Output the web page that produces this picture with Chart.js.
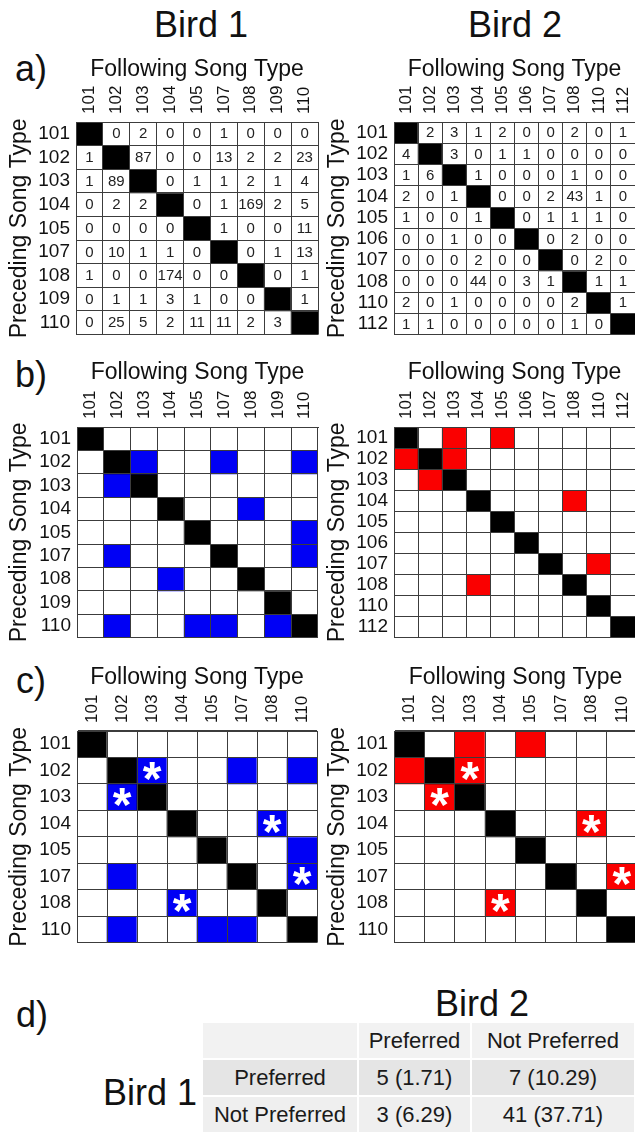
<!DOCTYPE html>
<html>
<head>
<meta charset="utf-8">
<title>Song type transitions</title>
<script src="https://cdn.jsdelivr.net/npm/chart.js@4.4.1/dist/chart.umd.min.js"></script>
<style>
  body { margin: 0; background: #fff; }
  #page { position: relative; width: 635px; height: 1132px; overflow: hidden;
          font-family: "Liberation Sans", Arial, sans-serif; color: #111; }
  .chartBox { position: absolute; }
  .big { position: absolute; font-size: 36px; line-height: 36px; white-space: nowrap; }
  .ctr { width: 200px; text-align: center; }
  #tbl { position: absolute; left: 201px; top: 1021px; width: 435px; table-layout: fixed;
         border-collapse: separate; border-spacing: 2px; font-size: 22px; color: #1a1a1a; }
  #tbl td { height: 35px; padding: 0; text-align: center; vertical-align: middle; white-space: nowrap; }
  #tbl tr.hd td { background: #f2f2f2; }
  #tbl tr.r0 td { background: #e5e5e5; }
  #tbl tr.r1 td { background: #efefef; }
</style>
</head>
<body>
<div id="page">
  <div class="big ctr" style="left:101px;top:7px">Bird 1</div>
  <div class="big ctr" style="left:415px;top:7px">Bird 2</div>
  <div class="big" style="left:15px;top:51px">a)</div>
  <div class="big" style="left:15px;top:357px">b)</div>
  <div class="big" style="left:16px;top:663px">c)</div>
  <div class="big" style="left:16px;top:997px">d)</div>
  <div class="big ctr" style="left:382px;top:986px">Bird 2</div>
  <div class="big" style="left:103px;top:1075px">Bird 1</div>

  <div class="chartBox"><canvas id="a1"></canvas></div>
  <div class="chartBox"><canvas id="a2"></canvas></div>
  <div class="chartBox"><canvas id="b1"></canvas></div>
  <div class="chartBox"><canvas id="b2"></canvas></div>
  <div class="chartBox"><canvas id="c1"></canvas></div>
  <div class="chartBox"><canvas id="c2"></canvas></div>

  <table id="tbl"></table>
</div>

<script>
// song types (rows = preceding, columns = following)
const bird1Types = ['101', '102', '103', '104', '105', '107', '108', '109', '110'];
const bird2Types = ['101', '102', '103', '104', '105', '106', '107', '108', '110', '112'];
// types shared by both birds, used in panel c
const sharedTypes = ['101', '102', '103', '104', '105', '107', '108', '110'];

// transition counts, null on the diagonal
const bird1Counts = [
  [null, 0, 2, 0, 0, 1, 0, 0, 0],
  [1, null, 87, 0, 0, 13, 2, 2, 23],
  [1, 89, null, 0, 1, 1, 2, 1, 4],
  [0, 2, 2, null, 0, 1, 169, 2, 5],
  [0, 0, 0, 0, null, 1, 0, 0, 11],
  [0, 10, 1, 1, 0, null, 0, 1, 13],
  [1, 0, 0, 174, 0, 0, null, 0, 1],
  [0, 1, 1, 3, 1, 0, 0, null, 1],
  [0, 25, 5, 2, 11, 11, 2, 3, null]
];
const bird2Counts = [
  [null, 2, 3, 1, 2, 0, 0, 2, 0, 1],
  [4, null, 3, 0, 1, 1, 0, 0, 0, 0],
  [1, 6, null, 1, 0, 0, 0, 1, 0, 0],
  [2, 0, 1, null, 0, 0, 2, 43, 1, 0],
  [1, 0, 0, 1, null, 0, 1, 1, 1, 0],
  [0, 0, 1, 0, 0, null, 0, 2, 0, 0],
  [0, 0, 0, 2, 0, 0, null, 0, 2, 0],
  [0, 0, 0, 44, 0, 3, 1, null, 1, 1],
  [2, 0, 1, 0, 0, 0, 0, 2, null, 1],
  [1, 1, 0, 0, 0, 0, 0, 1, 0, null]
];

// preferred transitions [preceding, following]
const bird1Preferred = [['102', '103'], ['102', '107'], ['102', '110'], ['103', '102'], ['104', '108'],
  ['105', '110'], ['107', '102'], ['107', '110'], ['108', '104'], ['110', '102'], ['110', '105'],
  ['110', '107'], ['110', '109']];
const bird2Preferred = [['101', '103'], ['101', '105'], ['102', '101'], ['102', '103'], ['103', '102'],
  ['104', '108'], ['107', '110'], ['108', '104']];
// preferred by both birds (asterisks)
const bothPreferred = [['102', '103'], ['103', '102'], ['104', '108'], ['107', '110'], ['108', '104']];

// panel d
const tableCats = ['Preferred', 'Not Preferred'];
const observed = [[5, 7], [3, 41]];
const expected = [[1.71, 10.29], [6.29, 37.71]];

const BLUE = '#0000f5';
const RED = '#fa0000';
const LINE = '#3c3c3c';
const COL_FONT = 17;

Chart.defaults.font.family = "'Liberation Sans', Arial, sans-serif";
Chart.defaults.color = '#111';
Chart.defaults.animation = false;
Chart.defaults.plugins.legend.display = false;
Chart.defaults.plugins.tooltip.enabled = false;

const has = (list, r, c) => list.some(p => p[0] === r && p[1] === c);

// numbers and asterisks inside the cells
const cellMarks = {
  id: 'cellMarks',
  afterDraw(chart) {
    const ctx = chart.ctx;
    ctx.save();
    ctx.textAlign = 'center';
    chart.data.datasets.forEach((ds, i) => {
      chart.getDatasetMeta(i).data.forEach((bar, j) => {
        const p = bar.getProps(['x', 'y', 'base'], true);
        const cy = (p.y + p.base) / 2;
        if (ds.counts && ds.counts[j] != null) {
          ctx.font = "15px 'Liberation Sans', Arial, sans-serif";
          ctx.fillStyle = '#222';
          ctx.textBaseline = 'middle';
          ctx.fillText(String(ds.counts[j]), p.x, cy + 0.5);
        }
        if (ds.stars && ds.stars[j]) {
          ctx.font = "bold 48px 'Liberation Sans', Arial, sans-serif";
          ctx.fillStyle = '#fff';
          ctx.textBaseline = 'alphabetic';
          const m = ctx.measureText('*');
          ctx.fillText('*', p.x, cy + (m.actualBoundingBoxAscent - m.actualBoundingBoxDescent) / 2);
        }
      });
    });
    ctx.restore();
  }
};

function matrixChart(id, rows, cols, fillFor, textFor, starFor, place) {
  const [bl, bt, bw, bh] = place.box;
  const [gl, gt, gr, gb] = place.grid;
  const canvas = document.getElementById(id);
  Object.assign(canvas.parentNode.style, {
    left: bl + 'px', top: bt + 'px', width: bw + 'px', height: bh + 'px'
  });

  const datasets = rows.map((r, i) => ({
    data: cols.map(() => [i, i + 1]),
    backgroundColor: cols.map(c => fillFor(r, c)),
    counts: textFor ? cols.map(c => textFor(r, c)) : null,
    stars: cols.map(c => starFor(r, c)),
    grouped: false,
    barPercentage: 1,
    categoryPercentage: 1,
    borderWidth: 0
  }));

  return new Chart(canvas, {
    type: 'bar',
    data: { labels: cols, datasets },
    options: {
      responsive: true,
      maintainAspectRatio: false,
      devicePixelRatio: 1,
      layout: { autoPadding: false, padding: { left: 0, top: 0, right: bl + bw - gr, bottom: bt + bh - gb } },
      scales: {
        x: {
          type: 'category',
          position: 'top',
          offset: true,
          grid: { offset: true, color: LINE, lineWidth: 1, drawTicks: false, z: 1 },
          border: { display: true, color: LINE, z: 1 },
          // rotated top labels sit one line height to the left, shift them back
          ticks: { autoSkip: false, minRotation: 90, maxRotation: 90, padding: 8, labelOffset: COL_FONT * 1.2,
                   font: { size: COL_FONT }, color: '#111' },
          title: { display: true, text: 'Following Song Type', font: { size: 23 }, color: '#111',
                   padding: { top: place.xTitle - bt - 13.8, bottom: 0 } },
          afterFit: s => { s.height = gt - bt; }
        },
        y: {
          type: 'linear',
          min: 0,
          max: rows.length,
          reverse: true,
          afterBuildTicks: s => { s.ticks = rows.map((r, i) => ({ value: i + 0.5 })); },
          grid: { offset: true, color: LINE, lineWidth: 1, drawTicks: false, z: 1 },
          border: { display: true, color: LINE, z: 1 },
          ticks: { autoSkip: false, padding: 6, font: { size: 19 }, color: '#111', callback: (v, i) => rows[i] },
          title: { display: true, text: 'Preceding Song Type', font: { size: 23 }, color: '#111',
                   padding: { top: place.yTitle - bl - 13.8, bottom: 0 } },
          afterFit: s => { s.width = gl - bl; }
        }
      }
    },
    plugins: [cellMarks]
  });
}

const countOf = (types, counts) => (r, c) => counts[types.indexOf(r)][types.indexOf(c)];
const plainFill = (r, c) => (r === c ? '#000' : '#fff');
const prefFill = (list, color) => (r, c) => (r === c ? '#000' : has(list, r, c) ? color : '#fff');
const noStars = () => false;
const starsOf = (r, c) => has(bothPreferred, r, c);

// a) counts
matrixChart('a1', bird1Types, bird1Types, plainFill, countOf(bird1Types, bird1Counts), noStars,
  { box: [0, 50, 321, 302], grid: [76, 122, 318, 350], xTitle: 70, yTitle: 20 });
matrixChart('a2', bird2Types, bird2Types, plainFill, countOf(bird2Types, bird2Counts), noStars,
  { box: [320, 50, 317, 302], grid: [394, 122, 635, 350], xTitle: 70, yTitle: 338 });

// b) preferred transitions
matrixChart('b1', bird1Types, bird1Types, prefFill(bird1Preferred, BLUE), null, noStars,
  { box: [0, 355, 321, 300], grid: [77, 427, 318, 653], xTitle: 373, yTitle: 20 });
matrixChart('b2', bird2Types, bird2Types, prefFill(bird2Preferred, RED), null, noStars,
  { box: [320, 355, 317, 300], grid: [394, 427, 635, 653], xTitle: 373, yTitle: 338 });

// c) shared song types, asterisk = preferred by both
matrixChart('c1', sharedTypes, sharedTypes, prefFill(bird1Preferred, BLUE), null, starsOf,
  { box: [0, 660, 320, 300], grid: [77, 731, 317, 958], xTitle: 678, yTitle: 20 });
matrixChart('c2', sharedTypes, sharedTypes, prefFill(bird2Preferred, RED), null, starsOf,
  { box: [320, 660, 319, 300], grid: [394, 731, 637, 958], xTitle: 678, yTitle: 338 });

// d) contingency table
let html = '<colgroup><col style="width:154px"><col style="width:111px"><col style="width:162px"></colgroup>';
html += '<tr class="hd"><td></td>' + tableCats.map(c => '<td>' + c + '</td>').join('') + '</tr>';
tableCats.forEach((r, i) => {
  html += '<tr class="r' + i + '"><td>' + r + '</td>' +
    observed[i].map((o, j) => '<td>' + o + ' (' + expected[i][j].toFixed(2) + ')</td>').join('') + '</tr>';
});
document.getElementById('tbl').innerHTML = html;
</script>
</body>
</html>
